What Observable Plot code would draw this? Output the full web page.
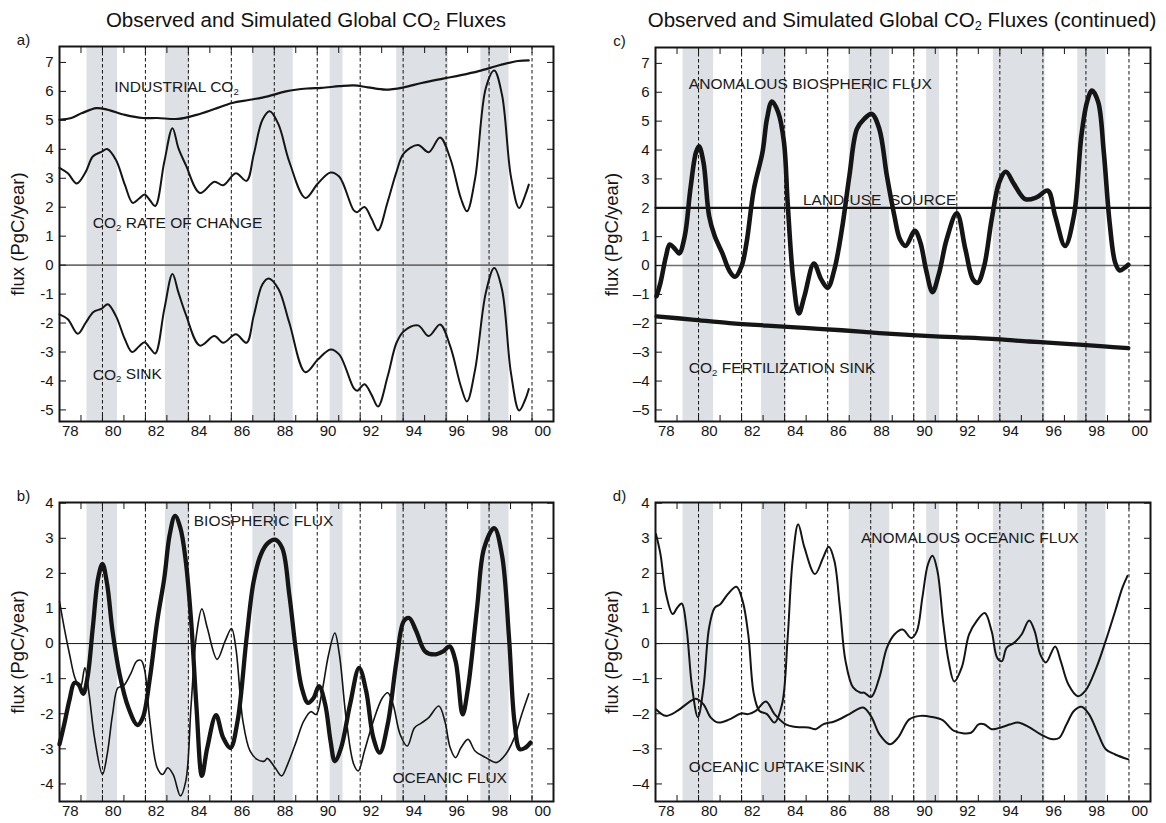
<!DOCTYPE html>
<html>
<head>
<meta charset="utf-8">
<script src="https://cdn.jsdelivr.net/npm/d3@7"></script>
<script src="https://cdn.jsdelivr.net/npm/@observablehq/plot@0.6"></script>
<style>
  html, body { margin: 0; padding: 0; background: #fff; }
  #page { position: relative; width: 1166px; height: 823px; overflow: hidden;
          font-family: "Liberation Sans", Arial, Helvetica, sans-serif; color: #111; }
  .panel { position: absolute; }
  .panel svg { overflow: visible; background: transparent; }
  .title { position: absolute; top: 6px; font-size: 20.5px; white-space: nowrap;
           transform: translateX(-50%); line-height: 28px; }
  .title sub { font-size: 0.62em; vertical-align: -0.25em; line-height: 0; }
</style>
</head>
<body>
<div id="page">
  <div class="title" style="left:306px">Observed and Simulated Global CO<sub>2</sub> Fluxes</div>
  <div class="title" style="left:902px">Observed and Simulated Global CO<sub>2</sub> Fluxes (continued)</div>
  <div class="panel" id="pa" style="left:0px; top:0px"></div>
  <div class="panel" id="pc" style="left:583px; top:0px"></div>
  <div class="panel" id="pb" style="left:0px; top:460px"></div>
  <div class="panel" id="pd" style="left:583px; top:460px"></div>
</div>
<script>
// ---- time axis ----
const shadedPeriods = [[1979.28, 1980.70], [1982.93, 1984.07], [1987.00, 1988.88],
                       [1990.60, 1991.20], [1993.70, 1996.10], [1997.62, 1998.93]];
const dashedYears = [1980, 1982, 1984, 1986, 1988, 1990, 1992, 1994, 1996, 1998, 2000];
const tickYears = [1979, 1980, 1981, 1982, 1983, 1984, 1985, 1986, 1987, 1988, 1989,
                   1990, 1991, 1992, 1993, 1994, 1995, 1996, 1997, 1998, 1999, 2000];
const labelYears = [1978.5, 1980.5, 1982.5, 1984.5, 1986.5, 1988.5, 1990.5, 1992.5,
                    1994.5, 1996.5, 1998.5, 2000.5];
const yearLabels = ["78", "80", "82", "84", "86", "88", "90", "92", "94", "96", "98", "00"];
const ticksTop = [-5, -4, -3, -2, -1, 0, 1, 2, 3, 4, 5, 6, 7];
const ticksBottom = [-4, -3, -2, -1, 0, 1, 2, 3, 4];

// ---- panel a: observed fluxes (PgC/year) ----
const industrialCO2 = [[1978.00,5.02],[1978.55,5.08],[1979.05,5.25],[1979.72,5.42],[1980.22,5.37],
  [1981.05,5.19],[1981.88,5.08],[1982.55,5.08],[1983.54,5.05],[1984.38,5.19],[1985.21,5.39],
  [1986.04,5.60],[1986.87,5.71],[1987.70,5.83],[1988.54,6.00],[1989.53,6.10],[1990.20,6.12],
  [1991.03,6.18],[1991.70,6.21],[1992.36,6.14],[1993.19,6.06],[1994.03,6.14],[1994.86,6.29],
  [1995.86,6.44],[1996.69,6.56],[1997.52,6.70],[1998.52,6.91],[1999.35,7.05],[1999.85,7.07]];
const co2RateOfChange = [[1978.00,3.36],[1978.39,3.17],[1978.80,2.82],[1979.22,3.22],[1979.55,3.75],
  [1979.97,3.92],[1980.22,4.01],[1980.63,3.63],[1981.05,2.76],[1981.41,2.15],[1981.71,2.30],
  [1981.96,2.44],[1982.21,2.24],[1982.46,2.04],[1982.88,3.57],[1983.26,4.73],[1983.54,4.03],
  [1983.88,3.46],[1984.54,2.49],[1985.21,2.88],[1985.62,2.76],[1986.21,3.17],[1986.71,2.91],
  [1987.04,3.81],[1987.45,5.02],[1987.79,5.31],[1988.20,4.85],[1988.70,3.57],[1989.45,2.32],
  [1990.03,2.82],[1990.62,3.20],[1991.03,3.05],[1991.70,1.89],[1991.86,1.83],[1992.20,2.01],
  [1992.53,1.60],[1992.83,1.20],[1993.28,2.19],[1993.69,3.22],[1994.03,3.86],[1994.69,4.15],
  [1995.19,3.90],[1995.72,4.41],[1996.19,3.69],[1996.69,2.30],[1996.97,1.86],[1997.35,2.99],
  [1997.85,6.12],[1998.24,6.72],[1998.60,5.89],[1999.02,3.05],[1999.40,1.97],[1999.68,2.41],
  [1999.85,2.78]];
const co2Sink = [[1978.00,-1.70],[1978.39,-1.87],[1978.85,-2.37],[1979.22,-1.99],[1979.58,-1.62],
  [1979.97,-1.50],[1980.25,-1.35],[1980.63,-1.76],[1981.05,-2.57],[1981.38,-3.00],[1981.71,-2.80],
  [1981.96,-2.66],[1982.21,-2.86],[1982.46,-3.05],[1982.88,-1.52],[1983.26,-0.31],[1983.54,-0.95],
  [1983.88,-1.70],[1984.54,-2.78],[1985.21,-2.45],[1985.62,-2.68],[1986.21,-2.39],[1986.71,-2.68],
  [1987.04,-1.76],[1987.45,-0.66],[1987.74,-0.46],[1988.20,-0.83],[1988.70,-1.99],[1989.45,-3.70],
  [1990.03,-3.26],[1990.62,-2.91],[1991.03,-3.09],[1991.70,-4.25],[1991.86,-4.34],[1992.20,-4.11],
  [1992.53,-4.48],[1992.83,-4.88],[1993.28,-3.84],[1993.69,-2.68],[1994.03,-2.28],[1994.69,-2.08],
  [1995.19,-2.45],[1995.72,-2.05],[1996.19,-2.80],[1996.69,-4.19],[1996.97,-4.71],[1997.35,-3.61],
  [1997.85,-0.95],[1998.24,-0.10],[1998.60,-0.83],[1999.02,-3.73],[1999.40,-5.02],[1999.68,-4.65],
  [1999.85,-4.28]];

// ---- panel b: simulated biospheric and oceanic fluxes ----
const biosphericFlux = [[1978.00,-2.87],[1978.22,-2.30],[1978.47,-1.59],[1978.69,-1.12],[1978.89,-1.17],
  [1979.10,-1.43],[1979.30,-0.98],[1979.55,0.45],[1979.80,1.87],[1980.00,2.27],[1980.22,1.68],
  [1980.47,0.35],[1980.80,-0.88],[1981.21,-1.83],[1981.63,-2.32],[1981.88,-2.11],[1982.21,-0.98],
  [1982.55,0.64],[1982.88,1.87],[1983.13,3.10],[1983.38,3.64],[1983.63,3.29],[1983.88,2.34],
  [1984.13,0.64],[1984.38,-1.83],[1984.63,-3.77],[1984.88,-2.97],[1985.29,-2.04],[1985.62,-2.68],
  [1985.96,-2.97],[1986.29,-2.21],[1986.71,0.16],[1987.04,1.77],[1987.37,2.53],[1987.70,2.86],
  [1988.04,2.96],[1988.37,2.72],[1988.70,1.39],[1989.03,-0.31],[1989.28,-1.26],[1989.57,-1.69],
  [1989.83,-1.55],[1990.08,-1.21],[1990.37,-1.73],[1990.62,-2.78],[1990.82,-3.35],[1991.11,-2.97],
  [1991.53,-1.73],[1991.95,-0.69],[1992.28,-1.36],[1992.61,-2.68],[1992.91,-3.11],[1993.28,-2.30],
  [1993.69,-0.50],[1994.03,0.64],[1994.28,0.73],[1994.61,0.35],[1995.02,-0.22],[1995.44,-0.31],
  [1995.86,-0.22],[1996.16,-0.08],[1996.44,-0.50],[1996.77,-2.02],[1997.02,-1.26],[1997.44,1.01],
  [1997.77,2.72],[1998.24,3.29],[1998.60,2.53],[1998.93,0.16],[1999.18,-2.21],[1999.43,-3.01],
  [1999.68,-2.97],[1999.93,-2.82]];
const oceanicFlux = [[1978.00,1.20],[1978.22,0.45],[1978.47,-0.31],[1978.72,-0.98],[1978.97,-1.26],
  [1979.18,-0.69],[1979.38,-1.45],[1979.63,-2.68],[1980.00,-3.73],[1980.22,-3.16],[1980.47,-2.02],
  [1980.72,-1.26],[1980.97,-1.21],[1981.30,-0.88],[1981.60,-0.50],[1981.80,-0.48],[1981.96,-0.74],
  [1982.21,-2.21],[1982.55,-3.54],[1982.80,-3.73],[1983.04,-3.54],[1983.29,-3.73],[1983.63,-4.34],
  [1983.88,-3.92],[1984.13,-1.73],[1984.38,0.26],[1984.63,0.99],[1984.88,0.45],[1985.34,-0.45],
  [1985.71,0.07],[1986.01,0.43],[1986.21,-0.12],[1986.54,-2.21],[1986.87,-3.06],[1987.20,-3.30],
  [1987.54,-3.35],[1987.67,-3.27],[1988.04,-3.54],[1988.34,-3.77],[1988.62,-3.44],[1989.03,-2.78],
  [1989.37,-2.21],[1989.70,-1.94],[1989.95,-2.02],[1990.20,-1.45],[1990.53,-0.31],[1990.82,0.30],
  [1991.03,-0.31],[1991.36,-2.21],[1991.70,-3.44],[1991.91,-3.63],[1992.20,-3.06],[1992.61,-2.21],
  [1993.03,-1.55],[1993.28,-1.40],[1993.53,-1.73],[1993.86,-2.59],[1994.19,-2.92],[1994.53,-2.40],
  [1994.86,-2.26],[1995.19,-2.11],[1995.66,-1.78],[1995.94,-2.21],[1996.19,-2.97],[1996.44,-3.25],
  [1996.69,-2.97],[1997.02,-2.73],[1997.35,-3.06],[1997.85,-3.25],[1998.35,-3.39],[1998.77,-3.16],
  [1999.18,-2.68],[1999.52,-2.02],[1999.85,-1.43]];

// ---- panel c: components of the biospheric flux ----
const anomalousBiosphericFlux = [[1978.05,-1.06],[1978.23,-0.60],[1978.49,0.33],[1978.66,0.73],
  [1978.92,0.56],[1979.10,0.42],[1979.36,1.02],[1979.62,2.64],[1979.88,3.92],[1980.02,4.13],
  [1980.23,3.57],[1980.49,1.72],[1980.75,1.02],[1981.10,0.44],[1981.44,-0.19],[1981.70,-0.39],
  [1982.00,-0.02],[1982.23,0.79],[1982.57,2.64],[1982.97,3.92],[1983.18,5.08],[1983.41,5.68],
  [1983.70,5.31],[1983.97,4.27],[1984.14,2.18],[1984.40,-0.48],[1984.66,-1.66],[1984.92,-1.06],
  [1985.36,0.07],[1985.70,-0.48],[1986.00,-0.77],[1986.31,-0.14],[1986.66,1.25],[1987.01,3.11],
  [1987.36,4.73],[1987.70,5.08],[1988.05,5.25],[1988.40,4.73],[1988.75,3.11],[1989.10,1.72],
  [1989.36,0.91],[1989.62,0.68],[1990.05,1.20],[1990.31,0.79],[1990.57,-0.14],[1990.87,-0.92],
  [1991.18,-0.25],[1991.53,0.91],[1992.00,1.81],[1992.40,0.56],[1992.75,-0.48],[1992.97,-0.60],
  [1993.27,-0.02],[1993.62,1.60],[1993.97,2.88],[1994.28,3.25],[1994.66,2.82],[1995.18,2.30],
  [1995.70,2.36],[1996.23,2.59],[1996.57,1.72],[1997.03,0.68],[1997.44,1.72],[1997.79,4.50],
  [1998.05,5.66],[1998.28,6.06],[1998.57,5.66],[1998.83,3.92],[1999.10,1.49],[1999.36,0.10],
  [1999.57,-0.17],[1999.79,-0.08],[1999.97,0.03]];
const landUseSource = [[1978.00,2.00],[2001.00,2.00]];
const co2FertilizationSink = [[1978.05,-1.76],[1979.70,-1.87],[1981.44,-1.99],[1983.18,-2.08],
  [1984.92,-2.16],[1986.66,-2.24],[1988.40,-2.34],[1990.14,-2.42],[1991.88,-2.48],[1993.62,-2.54],
  [1995.36,-2.63],[1997.10,-2.71],[1998.83,-2.80],[1999.97,-2.86]];

// ---- panel d: components of the oceanic flux ----
const anomalousOceanicFlux = [[1978.02,3.12],[1978.23,2.55],[1978.49,1.41],[1978.80,0.84],[1979.01,1.02],
  [1979.22,1.14],[1979.44,0.45],[1979.70,-1.25],[1979.97,-2.10],[1980.23,-1.25],[1980.49,0.45],
  [1980.75,1.02],[1981.01,1.12],[1981.36,1.41],[1981.76,1.62],[1982.05,1.21],[1982.31,0.26],
  [1982.57,-1.44],[1982.83,-1.92],[1983.18,-2.01],[1983.53,-2.25],[1983.88,-1.73],[1984.14,0.16],
  [1984.37,2.36],[1984.63,3.40],[1984.92,2.74],[1985.41,1.98],[1985.79,2.45],[1986.05,2.76],
  [1986.31,2.36],[1986.57,1.02],[1986.83,-0.50],[1987.18,-1.25],[1987.53,-1.40],[1987.70,-1.40],
  [1988.02,-1.52],[1988.40,-0.97],[1988.75,-0.12],[1989.10,0.26],[1989.48,0.40],[1989.88,0.16],
  [1990.14,0.35],[1990.40,1.31],[1990.66,2.26],[1990.87,2.50],[1991.10,2.07],[1991.36,0.64],
  [1991.62,-0.50],[1991.88,-1.08],[1992.23,-0.68],[1992.57,0.26],[1992.92,0.64],[1993.30,0.87],
  [1993.62,0.35],[1993.88,-0.41],[1994.10,-0.50],[1994.31,-0.12],[1994.66,0.02],[1995.01,0.26],
  [1995.36,0.66],[1995.62,0.35],[1995.88,-0.31],[1996.14,-0.54],[1996.57,-0.08],[1996.83,-0.50],
  [1997.18,-1.16],[1997.62,-1.50],[1997.97,-1.35],[1998.49,-0.68],[1998.92,0.08],[1999.36,0.93],
  [1999.70,1.60],[1999.93,1.93]];
const oceanicUptakeSink = [[1978.02,-1.87],[1978.49,-2.06],[1979.01,-1.92],[1979.53,-1.68],[1979.88,-1.57],
  [1980.23,-1.73],[1980.57,-2.11],[1980.92,-2.25],[1981.44,-2.16],[1981.97,-1.99],[1982.31,-2.01],
  [1982.66,-1.92],[1983.13,-1.65],[1983.53,-2.01],[1984.05,-2.30],[1984.57,-2.38],[1985.10,-2.39],
  [1985.44,-2.44],[1985.79,-2.30],[1986.31,-2.22],[1987.01,-2.01],[1987.65,-1.82],[1988.05,-2.11],
  [1988.40,-2.58],[1988.89,-2.87],[1989.27,-2.68],[1989.79,-2.16],[1990.31,-2.06],[1990.83,-2.09],
  [1991.36,-2.19],[1991.88,-2.49],[1992.66,-2.54],[1993.01,-2.30],[1993.27,-2.30],[1993.62,-2.44],
  [1994.05,-2.39],[1994.49,-2.30],[1994.83,-2.25],[1995.36,-2.38],[1995.88,-2.58],[1996.40,-2.72],
  [1996.75,-2.69],[1997.10,-2.30],[1997.44,-1.92],[1997.79,-1.80],[1998.14,-2.01],[1998.57,-2.58],
  [1998.92,-3.01],[1999.36,-3.16],[1999.97,-3.30]];

const INK = "#151515";
const FONT = '"Liberation Sans", Arial, Helvetica, sans-serif';

// Replace the "₂" character in SVG text with a lowered, smaller "2".
function subscriptCO2(svg) {
  svg.querySelectorAll("text").forEach(el => {
    if (el.querySelector("tspan")) return;
    const s = el.textContent;
    const i = s.indexOf("\u2082");
    if (i < 0) return;
    el.textContent = "";
    const ns = "http://www.w3.org/2000/svg";
    const a = document.createElementNS(ns, "tspan"); a.textContent = s.slice(0, i);
    const b = document.createElementNS(ns, "tspan"); b.textContent = "2";
    b.setAttribute("font-size", "0.62em"); b.setAttribute("dy", "0.3em");
    const c = document.createElementNS(ns, "tspan"); c.textContent = s.slice(i + 1);
    c.setAttribute("dy", "-0.19em");
    el.append(a, b, c);
  });
}

function panel(cfg) {
  const marks = [
    Plot.rect(shadedPeriods, {x1: d => d[0], x2: d => d[1], fill: "#dde0e4"}),
    Plot.ruleX(dashedYears, {stroke: INK, strokeWidth: 1, strokeDasharray: "3.5,2.5"}),
    Plot.ruleY([0], {stroke: cfg.zeroStroke, strokeWidth: cfg.zeroWidth}),
    ...cfg.series.map(s => Plot.line(s.data, {
      x: d => d[0], y: d => d[1], curve: s.curve || "catmull-rom",
      stroke: INK, strokeWidth: s.width, strokeLinejoin: "round", strokeLinecap: "round"
    })),
    ...cfg.notes.map(n => Plot.text([n], {
      x: d => d.t, y: d => d.v, text: d => d.text, textAnchor: "start",
      lineAnchor: "middle", fontSize: 15.5, fill: "#1a1a1a"
    })),
    Plot.frame({stroke: INK, strokeWidth: 2}),
    Plot.axisX(tickYears, {anchor: "bottom", tickSize: -6, tickFormat: () => "", label: null}),
    Plot.axisX(tickYears, {anchor: "top", tickSize: -6, tickFormat: () => "", label: null}),
    Plot.axisX(labelYears, {anchor: "bottom", tickSize: 0, tickPadding: 4, fontSize: 15,
      tickFormat: d => yearLabels[labelYears.indexOf(d)], label: null}),
    Plot.axisY(cfg.yTicks, {anchor: "left", tickSize: -7, tickFormat: () => "", label: null}),
    Plot.axisY(cfg.yTicks, {anchor: "right", tickSize: -7, tickFormat: () => "", label: null}),
    Plot.axisY(cfg.yTicks, {anchor: "left", tickSize: 0, tickPadding: 6, fontSize: 15,
      tickFormat: d => (d < 0 ? cfg.minus + Math.abs(d) : String(d)), label: null}),
    Plot.text(["flux (PgC/year)"], {frameAnchor: "left", dx: cfg.labelDx, rotate: -90,
      text: d => d, textAnchor: "middle", lineAnchor: "middle", fontSize: 18.5}),
    Plot.text([cfg.letter], {frameAnchor: "top-left", dx: cfg.letterDx, dy: -6,
      text: d => d, textAnchor: "middle", lineAnchor: "middle", fontSize: 15})
  ];
  const svg = Plot.plot({
    width: cfg.width, height: cfg.height,
    marginLeft: cfg.ml, marginRight: cfg.mr, marginTop: cfg.mt, marginBottom: cfg.mb,
    x: {domain: [1978, 2001]},
    y: {domain: cfg.yDomain},
    style: {fontFamily: FONT, fontSize: "15px", color: INK, background: "transparent", overflow: "visible"},
    marks
  });
  subscriptCO2(svg);
  document.getElementById(cfg.id).append(svg);
}

panel({
  id: "pa", width: 583, height: 460, ml: 59, mr: 30, mt: 46, mb: 39,
  yDomain: [-5.4, 7.55], yTicks: ticksTop, minus: "-", zeroStroke: "#6e6e6e", zeroWidth: 1.6,
  labelDx: -41, letter: "a)", letterDx: -36,
  series: [
    {data: industrialCO2, width: 2.2},
    {data: co2RateOfChange, width: 2},
    {data: co2Sink, width: 2}
  ],
  notes: [
    {t: 1980.55, v: 6.15, text: "INDUSTRIAL CO\u2082"},
    {t: 1979.55, v: 1.45, text: "CO\u2082 RATE OF CHANGE"},
    {t: 1979.55, v: -3.78, text: "CO\u2082 SINK"}
  ]
});

panel({
  id: "pb", width: 583, height: 363, ml: 59, mr: 30, mt: 42, mb: 22,
  yDomain: [-4.5, 4.02], yTicks: ticksBottom, minus: "-", zeroStroke: INK, zeroWidth: 1,
  labelDx: -41, letter: "b)", letterDx: -36,
  series: [
    {data: oceanicFlux, width: 1.6},
    {data: biosphericFlux, width: 4.3}
  ],
  notes: [
    {t: 1984.25, v: 3.48, text: "BIOSPHERIC FLUX"},
    {t: 1993.5, v: -3.82, text: "OCEANIC FLUX"}
  ]
});

panel({
  id: "pc", width: 583, height: 460, ml: 72, mr: 16, mt: 47, mb: 39,
  yDomain: [-5.4, 7.55], yTicks: ticksTop, minus: "\u2013", zeroStroke: "#6e6e6e", zeroWidth: 1.6,
  labelDx: -43, letter: "c)", letterDx: -36,
  series: [
    {data: landUseSource, width: 2.2, curve: "linear"},
    {data: co2FertilizationSink, width: 4.3},
    {data: anomalousBiosphericFlux, width: 4.6}
  ],
  notes: [
    {t: 1979.55, v: 6.28, text: "ANOMALOUS BIOSPHERIC FLUX"},
    {t: 1984.85, v: 2.27, text: "LAND-USE\u00a0 SOURCE"},
    {t: 1979.55, v: -3.55, text: "CO\u2082 FERTILIZATION SINK"}
  ]
});

panel({
  id: "pd", width: 583, height: 363, ml: 72, mr: 16, mt: 42, mb: 22,
  yDomain: [-4.5, 4.02], yTicks: ticksBottom, minus: "\u2013", zeroStroke: INK, zeroWidth: 1,
  labelDx: -43, letter: "d)", letterDx: -36,
  series: [
    {data: oceanicUptakeSink, width: 2},
    {data: anomalousOceanicFlux, width: 2}
  ],
  notes: [
    {t: 1987.55, v: 3.0, text: "ANOMALOUS OCEANIC FLUX"},
    {t: 1979.55, v: -3.53, text: "OCEANIC UPTAKE SINK"}
  ]
});
</script>
</body>
</html>
